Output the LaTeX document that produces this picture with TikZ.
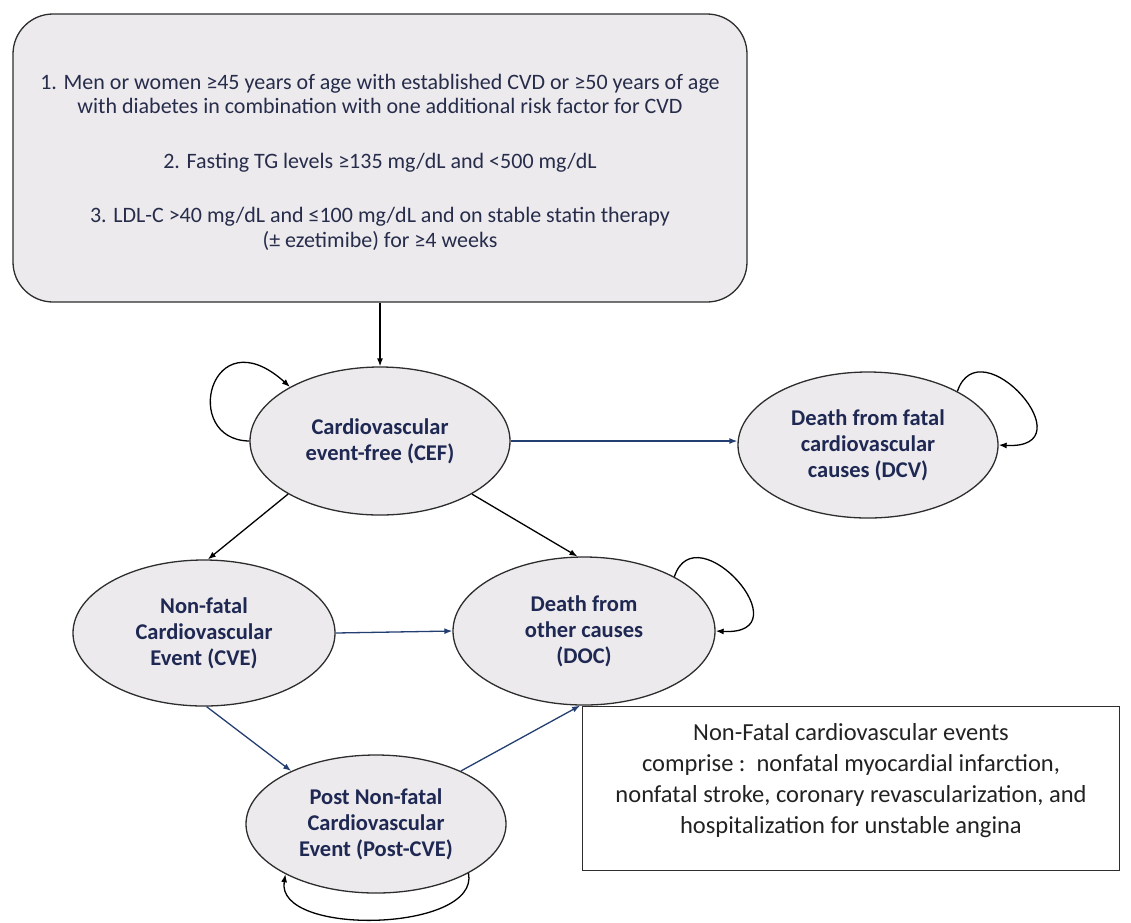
\documentclass[tikz,border=0pt]{standalone}
\usepackage{fontspec}
\setmainfont{Carlito}
\usetikzlibrary{shapes.geometric,arrows.meta,calc}
\definecolor{fillg}{RGB}{236,234,237}
\definecolor{navy}{RGB}{30,40,82}
\definecolor{toptxt}{RGB}{38,44,74}
\definecolor{notetxt}{RGB}{34,34,34}
\definecolor{edgeblue}{RGB}{35,62,112}
\definecolor{bordc}{RGB}{45,45,45}
\begin{document}
\begin{tikzpicture}[x=1pt,y=-1pt,
  state/.style={ellipse,draw=bordc,line width=1.3pt,fill=fillg,inner sep=0pt,
    minimum width=260pt,minimum height=148pt,align=center,text=navy,
    font=\fontsize{22.5}{26}\selectfont\bfseries},
  arr/.style={line width=1.3pt,-{Latex[length=8pt,width=6pt]}},
  blk/.style={arr,draw=black},
  blu/.style={arr,draw=edgeblue},
]
\useasboundingbox (0,0) rectangle (1131,922);
% inclusion criteria box
\node[draw=bordc,line width=1.3pt,fill=fillg,rounded corners=40pt,
  minimum width=734pt,minimum height=288pt,inner sep=0pt] (top) at (380,158) {};
\node[align=center,text=toptxt,font=\fontsize{22}{24.5}\selectfont,inner sep=0pt] (toptext) at (380,162)
  {1. Men or women ≥45 years of age with established CVD or ≥50 years of age\\
   with diabetes in combination with one additional risk factor for CVD\\[30pt]
   2. Fasting TG levels ≥135 mg/dL and <500 mg/dL\\[30pt]
   3. LDL-C >40 mg/dL and ≤100 mg/dL and on stable statin therapy\\
   (± ezetimibe) for ≥4 weeks};
% states
\node[state] (CEF) at (380,441) {Cardiovascular\\event-free (CEF)};
\node[state,minimum height=146pt] (DCV) at (868,445) {Death from fatal\\cardiovascular\\causes (DCV)};
\node[state,minimum width=262pt,minimum height=146pt] (CVE) at (204,633) {Non-fatal\\Cardiovascular\\Event (CVE)};
\node[state,minimum width=262pt] (DOC) at (584,631) {Death from\\other causes\\(DOC)};
\node[state,minimum height=138pt] (Post) at (376,824) {Post Non-fatal\\Cardiovascular\\Event (Post-CVE)};
% note box
\node[draw=bordc,line width=1pt,fill=white,minimum width=537pt,minimum height=164pt,inner sep=0pt] (note) at (851,788) {};
\node[align=center,text=notetxt,font=\fontsize{24.5}{31}\selectfont,inner sep=0pt] (notetext) at (851,781)
  {Non-Fatal cardiovascular events\\
   comprise :\ \ nonfatal myocardial infarction,\\
   nonfatal stroke, coronary revascularization, and\\
   hospitalization for unstable angina};
% transitions
\draw[blk] (top.south) -- (top.south |- CEF.north);
\draw[blu] (CEF.east) -- (CEF.east -| DCV.west);
\draw[blk] (CEF.210) -- (CVE.87);
\draw[blk] (CEF.330) -- (DOC.95);
\draw[blu] (CVE.east) -- (DOC.west);
\draw[blu] (CVE.272) -- (Post.148);
\draw[blu] (Post.32) -- (DOC.267);
% self loops
\draw[blk] (CEF.180) .. controls ($(CEF.center)+(-200,-1)$) and ($(CEF.center)+(-170,-126)$) .. (CEF.149);
\draw[blk] (DCV.31) .. controls ($(DCV.center)+(112,-120)$) and ($(DCV.center)+(222,5)$) .. (DCV.east);
\draw[blk] (DOC.31) .. controls ($(DOC.center)+(112,-120)$) and ($(DOC.center)+(222,5)$) .. (DOC.east);
\draw[blk] (Post.332) .. controls ($(Post.center)+(104,108)$) and ($(Post.center)+(-101,113)$) .. (Post.209);
\end{tikzpicture}
\end{document}
